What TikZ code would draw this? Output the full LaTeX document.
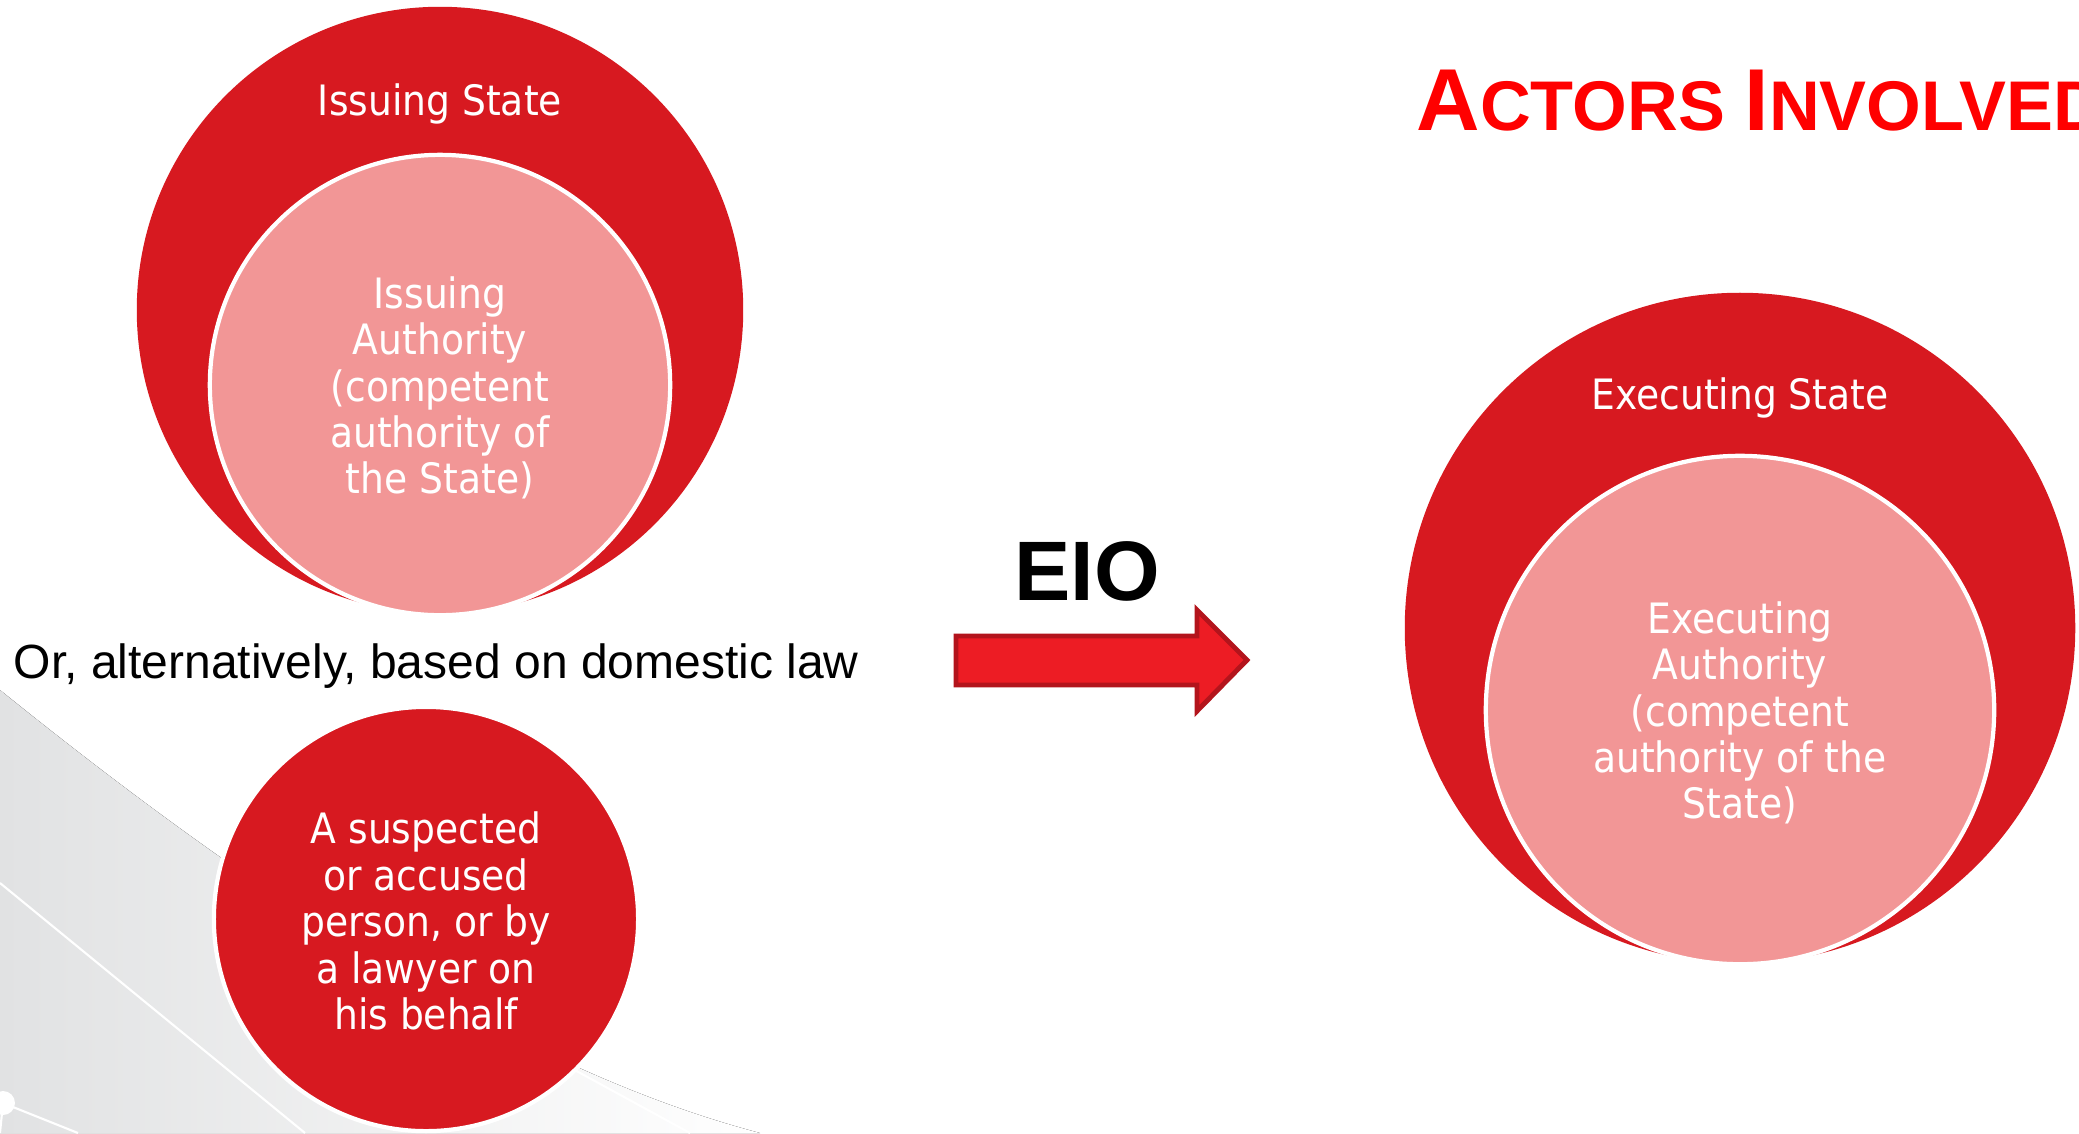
\documentclass[tikz,border=0pt]{standalone}
\usepackage{fontspec}
\setmainfont{Liberation Sans}
\newfontfamily\circfont{DejaVu Sans Condensed}
\usepackage{tikz}
\usetikzlibrary{positioning}

\definecolor{statered}{HTML}{D71920}
\definecolor{authpink}{HTML}{F29696}
\definecolor{titlered}{HTML}{FF0000}
\definecolor{arrowred}{HTML}{ED1C24}
\definecolor{arrowedge}{HTML}{B3141C}
\definecolor{swoosh}{HTML}{E1E2E3}

\begin{document}
\begin{tikzpicture}[x=0.01cm, y=-0.01cm,
  statecircle/.style={circle, fill=statered, inner sep=0pt},
  authcircle/.style={circle, fill=authpink, draw=white, line width=1.2pt, inner sep=0pt},
  circtext/.style={text=white, align=center, inner sep=0pt, font=\circfont\fontsize{11.9}{13.2}\selectfont},
  bgline/.style={white, line width=0.6pt}]

  \useasboundingbox[fill=white] (0,0) rectangle (2079,1133);

	%background 
  \fill[left color=swoosh, right color=white] (0,690) .. controls (260,900) and (520,1070) .. (760,1133) -- (0,1133) -- cycle;
  \draw[bgline] (0,883) -- (305,1133);
  \draw[bgline] (560,1062) -- (690,1133);
  \coordinate (dot) at (3,1103);
  \fill[white] (dot) circle (12);
  \draw[bgline] (dot) -- (78,1133);
  \draw[bgline] (dot) -- (0,1133);

	%title
  \node[anchor=base west, text=titlered, inner sep=0pt, font=\bfseries] (title) at (1416,130)
     {\fontsize{25}{25}\selectfont A\fontsize{20}{20}\selectfont CTORS \fontsize{25}{25}\selectfont I\fontsize{20}{20}\selectfont NVOLVED};

	%states
  \foreach \cx/\cy/\R/\r/\icy/\hy/\name/\head/\body in {
      440/310/303/230/388/104/is/{Issuing State}/{Issuing\\Authority\\(competent\\authority of\\the State)},
      1740/628/335/254/713/398/ex/{Executing State}/{Executing\\Authority\\(competent\\authority of the\\State)}}{
    \node[statecircle, minimum size={\R*0.02cm}] (\name-state) at (\cx,\cy) {};
    \node[circtext] (\name-head) at (\cx,\hy) {\head};
    \node[authcircle, minimum size={\r*0.02cm}] (\name-auth) at (\cx,\icy-3) {};
    \node[circtext] (\name-text) at (\cx,\icy) {\body};
  }

	%alternative
  \node[anchor=base west, inner sep=0pt, font=\fontsize{13.65}{16}\selectfont] (alt) at (13,678)
     {Or, alternatively, based on domestic law};
  \node[statecircle, draw=white, line width=1.2pt, minimum size=4.24cm] (person) at (426,919) {};
  \node[circtext] (person-text) at (426,921) {A suspected\\or accused\\person, or by\\a lawyer on\\his behalf};

	%order
  \node[anchor=base, inner sep=0pt, font=\bfseries\fontsize{24}{24}\selectfont] (eio) at (1087,600) {EIO};
  \draw[fill=arrowred, draw=arrowedge, line width=1.4pt, line join=miter]
     (956,636) -- (1197,636) -- (1197,610) -- (1247,660) -- (1197,711) -- (1197,685) -- (956,685) -- cycle;

\end{tikzpicture}
\end{document}
